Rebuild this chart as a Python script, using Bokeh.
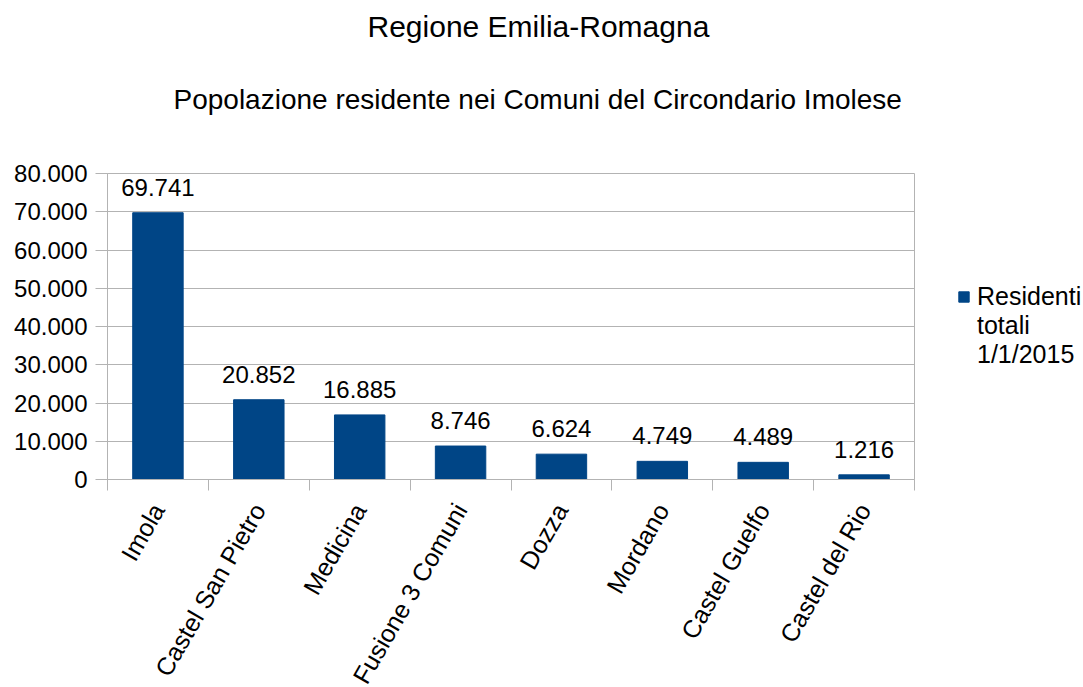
from math import pi
from bokeh.plotting import figure
from bokeh.core.properties import value
from bokeh.models import (ColumnDataSource, Range1d, FixedTicker, LabelSet, Legend,
                          LegendItem, Title)
from bokeh.embed import file_html
from bokeh.resources import INLINE

# ---- data ----
comuni = ["Imola", "Castel San Pietro", "Medicina", "Fusione 3 Comuni",
          "Dozza", "Mordano", "Castel Guelfo", "Castel del Rio"]
residenti = [69741, 20852, 16885, 8746, 6624, 4749, 4489, 1216]
y_ticks = [0, 10000, 20000, 30000, 40000, 50000, 60000, 70000, 80000]
title_text = "Regione Emilia-Romagna"
subtitle_text = "Popolazione residente nei Comuni del Circondario Imolese"
series_lines = ["Residenti", "totali", "1/1/2015"]

FONT = "Liberation Sans"
BAR = "#004586"
GRID = "#b3b3b3"


def it_fmt(v):
    return f"{v:,}".replace(",", ".")


n = len(comuni)
xs = [i + 0.5 for i in range(n)]
src = ColumnDataSource(dict(x=xs, top=residenti, label=[it_fmt(v) for v in residenti]))

p = figure(frame_width=807, frame_height=306, output_backend="svg", toolbar_location=None,
           x_range=Range1d(0, n), y_range=Range1d(0, y_ticks[-1]),
           min_border_left=107, min_border_right=161, min_border_top=0,
           min_border_bottom=195)

bars = p.vbar(x="x", top="top", width=0.5, source=src, fill_color=BAR, line_color=BAR)
# empty, invisible renderer used only for the extra legend text lines
blank = p.vbar(x=[], top=[], width=0.5, fill_alpha=0, line_alpha=0)

# titles (spacer closest to the frame, then subtitle, then title)
p.add_layout(Title(text=" ", text_font_size="1px", standoff=25), "above")
p.add_layout(Title(text=subtitle_text, align="left", offset=66, text_font=FONT,
                   text_font_size="28px", text_font_style="normal",
                   text_color="#000000", standoff=62), "above")
p.add_layout(Title(text=title_text, align="left", offset=260, text_font=FONT,
                   text_font_size="30px", text_font_style="normal",
                   text_color="#000000", standoff=15), "above")

# value labels
p.add_layout(LabelSet(x="x", y="top", text="label", source=src, text_align="center",
                      text_baseline="alphabetic", y_offset=17, text_font=value(FONT),
                      text_font_size="24px", text_color="#000000"))

# axes
p.yaxis.ticker = FixedTicker(ticks=y_ticks)
p.yaxis.major_label_overrides = {v: it_fmt(v) for v in y_ticks}
p.yaxis.major_label_text_font = FONT
p.yaxis.major_label_text_font_size = "24px"
p.yaxis.major_label_text_color = "#000000"
p.yaxis.axis_line_color = GRID
p.yaxis.major_tick_line_color = GRID
p.yaxis.major_tick_out = 12
p.yaxis.major_tick_in = 0
p.yaxis.minor_tick_line_color = None
p.yaxis.major_label_standoff = 8

p.xaxis.ticker = FixedTicker(ticks=xs, minor_ticks=list(range(n + 1)))
p.xaxis.major_label_overrides = {x: c for x, c in zip(xs, comuni)}
p.xaxis.major_label_orientation = pi / 3
p.xaxis.major_label_text_font = FONT
p.xaxis.major_label_text_font_size = "25px"
p.xaxis.major_label_text_color = "#000000"
p.xaxis.axis_line_color = GRID
p.xaxis.major_tick_line_color = None
p.xaxis.major_tick_out = 0
p.xaxis.minor_tick_line_color = GRID
p.xaxis.minor_tick_out = 11
p.xaxis.minor_tick_in = 0
p.xaxis.major_label_standoff = 15

p.xgrid.visible = False
p.ygrid.ticker = FixedTicker(ticks=y_ticks)
p.ygrid.grid_line_color = GRID
p.outline_line_color = GRID

items = [LegendItem(label=series_lines[0], renderers=[bars])]
items += [LegendItem(label=t, renderers=[blank]) for t in series_lines[1:]]
legend = Legend(items=items, location=(43, 110), label_text_font=FONT,
                label_text_font_size="25px", label_text_color="#000000",
                glyph_width=13, glyph_height=13, label_standoff=7,
                label_height=29, spacing=0,
                padding=0, margin=0, border_line_color=None,
                background_fill_alpha=0)
p.add_layout(legend, "right")

open("out.html", "w").write(file_html(p, INLINE))
